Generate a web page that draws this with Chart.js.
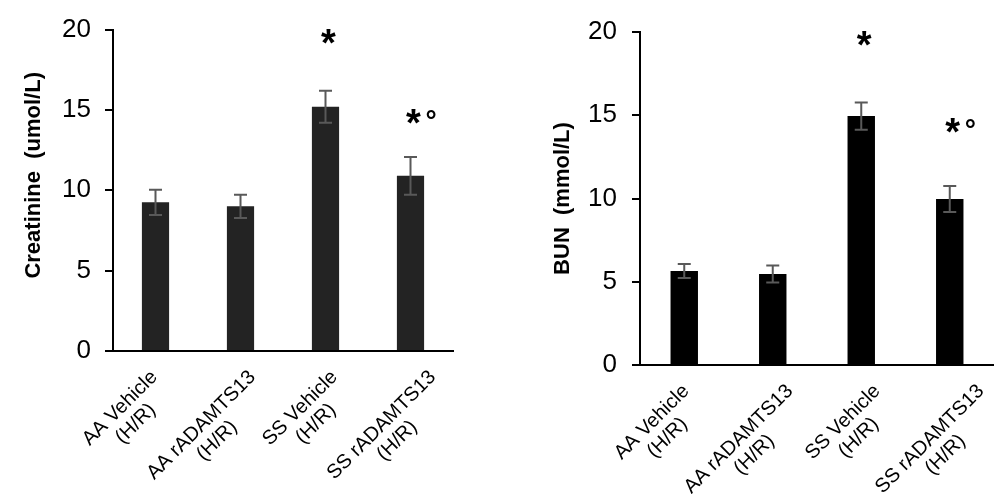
<!DOCTYPE html>
<html>
<head>
<meta charset="utf-8">
<script src="https://cdn.jsdelivr.net/npm/chart.js@4.4.1/dist/chart.umd.min.js"></script>
<style>
  html, body { margin: 0; padding: 0; background: #fff; }
  .wrap { position: absolute; top: 0; height: 494px; }
  #left { left: 0; width: 490px; }
  #right { left: 490px; width: 504px; }
</style>
</head>
<body>
<div class="wrap" id="left"><canvas id="creatinineChart" width="490" height="494"></canvas></div>
<div class="wrap" id="right"><canvas id="bunChart" width="504" height="494"></canvas></div>
<script>
// ---- DATA ----
const categories = [
  ['AA Vehicle', '(H/R)'],
  ['AA rADAMTS13', '(H/R)'],
  ['SS Vehicle', '(H/R)'],
  ['SS rADAMTS13', '(H/R)']
];

const creatinineMeans = [9.25, 9.0, 15.2, 10.9];
const creatinineErrors = [0.78, 0.72, 1.0, 1.17];
const creatinineMarks = ['', '', '*', '*°'];
const creatinineMarkLevels = [null, null, 19.6, 14.6];

const bunMeans = [5.65, 5.47, 14.95, 9.97];
const bunErrors = [0.42, 0.51, 0.82, 0.78];
const bunMarks = ['', '', '*', '*°'];
const bunMarkLevels = [null, null, 19.6, 14.4];

const yMin = 0;
const yMax = 20;
const yStep = 5;

const FONT = '"Liberation Sans", Arial, sans-serif';

// ---- OVERLAY PLUGIN: error bars, marks, rotated labels, y title ----
function makeOverlay(opts) {
  return {
    id: 'overlay',
    afterDatasetsDraw(chart) {
      const ctx = chart.ctx;
      const x = chart.scales.x;
      const y = chart.scales.y;
      ctx.save();
      ctx.strokeStyle = '#595959';
      ctx.lineWidth = 2;
      opts.means.forEach((m, i) => {
        const cx = x.getPixelForValue(i);
        const top = y.getPixelForValue(m + opts.errors[i]);
        const bot = y.getPixelForValue(m - opts.errors[i]);
        ctx.beginPath();
        ctx.moveTo(cx, top); ctx.lineTo(cx, bot);
        ctx.moveTo(cx - 6.5, top); ctx.lineTo(cx + 6.5, top);
        ctx.moveTo(cx - 6.5, bot); ctx.lineTo(cx + 6.5, bot);
        ctx.stroke();
      });
      ctx.restore();
    },
    afterDraw(chart) {
      const ctx = chart.ctx;
      const x = chart.scales.x;
      const y = chart.scales.y;
      const area = chart.chartArea;
      ctx.save();
      ctx.fillStyle = '#000';

      // significance marks
      opts.marks.forEach((mark, i) => {
        if (!mark) return;
        const cx = x.getPixelForValue(i) + 3;
        const cy = y.getPixelForValue(opts.markLevels[i]);
        ctx.font = 'bold 38px ' + FONT;
        const mt = ctx.measureText('*');
        const gw = mt.actualBoundingBoxRight + mt.actualBoundingBoxLeft;
        const gh = mt.actualBoundingBoxAscent + mt.actualBoundingBoxDescent;
        ctx.textAlign = 'left';
        ctx.textBaseline = 'alphabetic';
        ctx.fillText('*', cx - gw / 2 + mt.actualBoundingBoxLeft, cy - gh / 2 + mt.actualBoundingBoxAscent);
        if (mark.length > 1) {
          ctx.font = 'bold 28px ' + FONT;
          const dt = ctx.measureText('°');
          const dw = dt.actualBoundingBoxRight + dt.actualBoundingBoxLeft;
          const dh = dt.actualBoundingBoxAscent + dt.actualBoundingBoxDescent;
          const dx = cx + 17.5;
          const dy = cy - 1.5;
          ctx.fillText('°', dx - dw / 2 + dt.actualBoundingBoxLeft, dy - dh / 2 + dt.actualBoundingBoxAscent);
        }
      });

      // rotated two-line category labels
      ctx.font = '20px ' + FONT;
      const lh = 22;
      const mid = (area.left + area.right) / 2;
      categories.forEach((lines, i) => {
        const tick = x.getPixelForValue(i);
        const w1 = Math.max(...lines.map(s => ctx.measureText(s).width));
        const lx = mid + (tick - mid) * opts.spread;
        const trx = lx + 0.17 * w1 + opts.labelDx;
        const try_ = area.bottom + opts.labelPad;
        ctx.save();
        ctx.translate(trx, try_);
        ctx.rotate(-Math.PI / 4);
        ctx.textAlign = 'center';
        ctx.textBaseline = 'top';
        lines.forEach((s, j) => ctx.fillText(s, -w1 / 2, j * lh));
        ctx.restore();
      });

      // y axis title
      ctx.save();
      ctx.font = 'bold 22px ' + FONT;
      ctx.translate(area.left + opts.titleDx, (area.top + area.bottom) / 2 + opts.titleDy);
      ctx.rotate(-Math.PI / 2);
      ctx.textAlign = 'center';
      ctx.textBaseline = 'middle';
      ctx.fillText(opts.title, 0, 0);
      ctx.restore();

      ctx.restore();
    }
  };
}

// ---- CHART BUILDER ----
function buildChart(canvasId, opts) {
  return new Chart(document.getElementById(canvasId), {
    type: 'bar',
    data: {
      labels: categories.map(c => c.join(' ')),
      datasets: [{
        data: opts.means,
        backgroundColor: opts.barColor,
        borderWidth: 0,
        barPercentage: opts.barPct,
        categoryPercentage: 1
      }]
    },
    options: {
      responsive: false,
      devicePixelRatio: 1,
      animation: false,
      events: [],
      layout: { padding: { left: 0, right: opts.padRight, top: opts.padTop, bottom: 0 } },
      plugins: { legend: { display: false }, tooltip: { enabled: false } },
      scales: {
        x: {
          grid: { display: false },
          border: { color: '#000', width: 2 },
          ticks: { display: false },
          afterFit: s => { s.height = opts.xHeight; }
        },
        y: {
          min: yMin,
          max: yMax,
          ticks: {
            stepSize: yStep,
            color: '#000',
            padding: opts.tickPad,
            font: { family: FONT, size: 26 }
          },
          grid: { drawOnChartArea: false, drawTicks: true, tickLength: 8, color: '#000', lineWidth: 2 },
          border: { color: '#000', width: 2 },
          afterFit: s => { s.width = opts.yWidth; }
        }
      }
    },
    plugins: [makeOverlay(opts)]
  });
}

buildChart('creatinineChart', {
  means: creatinineMeans,
  errors: creatinineErrors,
  marks: creatinineMarks,
  markLevels: creatinineMarkLevels,
  barColor: '#232323',
  barPct: 0.32,
  padRight: 37,
  padTop: 18,
  xHeight: 143,
  yWidth: 113,
  tickPad: 14,
  spread: 1.06,
  labelDx: -17,
  labelPad: 16,
  title: 'Creatinine  (umol/L)',
  titleDx: -79.5,
  titleDy: -15
});

buildChart('bunChart', {
  means: bunMeans,
  errors: bunErrors,
  marks: bunMarks,
  markLevels: bunMarkLevels,
  barColor: '#000000',
  barPct: 0.31,
  padRight: 0,
  padTop: 32,
  xHeight: 129,
  yWidth: 150,
  tickPad: 15,
  spread: 1.08,
  labelDx: -11,
  labelPad: 16,
  title: 'BUN  (mmol/L)',
  titleDx: -77,
  titleDy: 0
});
</script>
</body>
</html>
